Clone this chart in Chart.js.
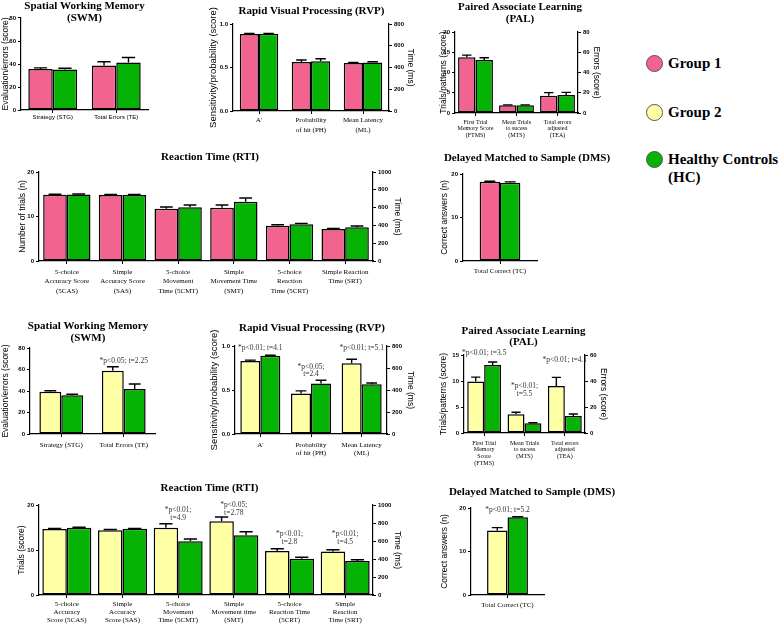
<!DOCTYPE html>
<html><head><meta charset="utf-8">
<script src="https://cdn.jsdelivr.net/npm/chart.js@4.4.0/dist/chart.umd.min.js"></script>
<style>
body{margin:0;background:#fff;width:778px;height:626px;position:relative;overflow:hidden}
canvas{position:absolute}
.leg{position:absolute;left:668px;font:bold 15px 'Liberation Serif',serif;color:#000;line-height:18px;white-space:nowrap}
.dot{position:absolute;width:17px;height:17px;border-radius:50%;border:1px solid #555;box-sizing:border-box}
</style></head><body>
<div class="dot" style="left:646px;top:55px;background:#F2648F"></div><div class="leg" style="top:54px">Group 1</div>
<div class="dot" style="left:646px;top:104px;background:#FFFFA6"></div><div class="leg" style="top:103px">Group 2</div>
<div class="dot" style="left:646px;top:151px;background:#05B305"></div><div class="leg" style="top:150px">Healthy Controls<br>(HC)</div>
<script>
// ---------- data ----------
const groupNames = ['Group 1', 'Group 2', 'Healthy Controls (HC)'];

const swmCatsTop = ['Strategy (STG)', 'Total Errors (TE)'];
const swmCatsBot = ['Strategy (STG)', 'Total Errors (TE)'];
const swmG1 = [35.6, 38.6];   const swmG1Err = [1.0, 3.4];
const swmHC1 = [35.3, 41.3];  const swmHC1Err = [1.0, 4.4];
const swmG2 = [39.3, 58.9];   const swmG2Err = [1.0, 3.7];
const swmHC2 = [36.0, 41.9];  const swmHC2Err = [1.0, 4.6];
const swmNotes = [null, ['*p<0.05; t=2.25']];

const rvpCats = ["A'", ['Probability', 'of hit (PH)'], ['Mean Latency', '(ML)']];
const rvpAxis = ['y', 'y', 'y2'];
const rvpG1 = [0.885, 0.563, 441];  const rvpG1Err = [0.005, 0.023, 6];
const rvpHC1 = [0.887, 0.571, 445]; const rvpHC1Err = [0.005, 0.03, 8];
const rvpG2 = [0.83, 0.46, 643];    const rvpG2Err = [0.01, 0.03, 36];
const rvpHC2 = [0.89, 0.575, 452];  const rvpHC2Err = [0.005, 0.035, 12];
const rvpNotes = [['*p<0.01; t=4.1'], ['*p<0.05;', 't=2.4'], ['*p<0.01; t=5.1']];

const palCatsTop = [['First Trial', 'Memory Score', '(FTMS)'], ['Mean Trials', 'to sucess', '(MTS)'], ['Total errors', 'adjusted', '(TEA)']];
const palCatsBot = [['First Trial', 'Memory', 'Score', '(FTMS)'], ['Mean Trials', 'to sucess', '(MTS)'], ['Total errors', 'adjusted', '(TEA)']];
const palAxis = ['y', 'y', 'y2'];
const palG1 = [13.75, 1.9, 17.1];  const palG1Err = [0.55, 0.1, 3.0];
const palHC1 = [13.1, 1.9, 17.8];  const palHC1Err = [0.55, 0.1, 2.6];
const palG2 = [9.9, 3.6, 36.2];    const palG2Err = [0.85, 0.4, 6.6];
const palHC2 = [13.1, 1.86, 13.1]; const palHC2Err = [0.55, 0.1, 1.5];
const palNotes = [['*p<0.01; t=3.5'], ['*p<0.01;', 't=5.5'], ['*p<0.01; t=4.1']];

const rtiCatsTop = [['5-choice', 'Accuracy Score', '(5CAS)'], ['Simple', 'Accuracy Score', '(SAS)'], ['5-choice', 'Movement', 'Time (5CMT)'], ['Simple', 'Movement Time', '(SMT)'], ['5-choice', 'Reaction', 'Time (5CRT)'], ['Simple Reaction', 'Time (SRT)']];
const rtiCatsBot = [['5-choice', 'Accuracy', 'Score (5CAS)'], ['Simple', 'Accuracy', 'Score (SAS)'], ['5-choice', 'Movement', 'Time (5CMT)'], ['Simple', 'Movement time', '(SMT)'], ['5-choice', 'Reaction Time', '(5CRT)'], ['Simple', 'Reaction', 'Time (SRT)']];
const rtiAxis = ['y', 'y', 'y2', 'y2', 'y2', 'y2'];
const rtiG1 = [14.9, 14.85, 588, 599, 397, 360];   const rtiG1Err = [0.1, 0.1, 19, 30, 11, 5];
const rtiHC1 = [14.95, 14.85, 603, 666, 412, 379]; const rtiHC1Err = [0.1, 0.1, 26, 42, 11, 14];
const rtiG2 = [14.67, 14.4, 748, 819, 489, 482];   const rtiG2Err = [0.12, 0.15, 44, 48, 25, 21];
const rtiHC2 = [14.96, 14.7, 596, 663, 404, 378];  const rtiHC2Err = [0.1, 0.1, 26, 40, 15, 14];
const rtiNotes = [null, null, ['*p<0.01;', 't=4.9'], ['*p<0.05;', 't=2.78'], ['*p<0.01;', 't=2.8'], ['*p<0.01;', 't=4.5']];

const dmsCats = ['Total Correct (TC)'];
const dmsG1 = [18.2];  const dmsG1Err = [0.15];
const dmsHC1 = [18.0]; const dmsHC1Err = [0.2];
const dmsG2 = [14.8];  const dmsG2Err = [0.7];
const dmsHC2 = [17.85]; const dmsHC2Err = [0.15];
const dmsNotes = [['*p<0.01; t=5.2']];

// ---------- styles ----------
const C_G1 = '#F2648F', C_G2 = '#FFFFA6', C_HC = '#05B305';
const SANS = "'Liberation Sans', Arial, sans-serif";
const SERIF = "'Liberation Serif', 'Times New Roman', serif";

const errorBars = {
  id: 'errorBars',
  afterDatasetsDraw(chart) {
    const ctx = chart.ctx;
    chart.data.datasets.forEach((ds, i) => {
      if (!ds.errors) return;
      const meta = chart.getDatasetMeta(i);
      const scale = chart.scales[meta.yAxisID];
      meta.data.forEach((bar, j) => {
        const v = ds.data[j];
        if (v == null || !ds.errors[j]) return;
        const yE = scale.getPixelForValue(v + ds.errors[j]);
        const half = bar.width * 0.27;
        ctx.save();
        ctx.strokeStyle = '#000'; ctx.lineWidth = 1.4;
        ctx.beginPath();
        ctx.moveTo(bar.x, bar.y); ctx.lineTo(bar.x, yE);
        ctx.moveTo(bar.x - half, yE); ctx.lineTo(bar.x + half, yE);
        ctx.stroke();
        ctx.restore();
      });
    });
  }
};

function notesPlugin(notes, lifts, lineGap) {
  return {
    id: 'notes',
    afterDatasetsDraw(chart) {
      if (!notes) return;
      const ctx = chart.ctx, xs = chart.scales.x;
      notes.forEach((lines, idx) => {
        if (!lines) return;
        let top = Infinity;
        chart.data.datasets.forEach((ds, i) => {
          const v = ds.data[idx];
          if (v == null) return;
          const s = chart.scales[chart.getDatasetMeta(i).yAxisID];
          top = Math.min(top, s.getPixelForValue(v + (ds.errors ? ds.errors[idx] || 0 : 0)));
        });
        const x = xs.getPixelForValue(idx);
        ctx.save();
        ctx.font = '7.5px ' + SERIF;
        ctx.fillStyle = '#333';
        ctx.textAlign = 'center';
        ctx.textBaseline = 'middle';
        lines.forEach((ln, k) => ctx.fillText(ln, x, top - lifts[idx] - (lines.length - 1 - k) * lineGap));
        ctx.restore();
      });
    }
  };
}

function yAxis(pos, max, step, title, width, titleSize, fmt) {
  return {
    type: 'linear', position: pos, min: 0, max: max,
    ticks: { stepSize: step, font: { family: SANS, size: 6, weight: 'bold' }, color: '#000', padding: 2,
             callback: fmt || (v => v) },
    grid: { display: true, drawOnChartArea: false, drawTicks: true, tickLength: 3, color: '#000', lineWidth: 1 },
    border: { display: true, color: '#000', width: 1.2 },
    title: { display: !!title, text: title, font: { family: SANS, size: titleSize || 8.5 }, color: '#000', padding: 0 },
    afterFit: s => { s.width = width; }
  };
}

function panel(o) {
  const [l, t, r, b] = o.box;
  const cv = document.createElement('canvas');
  cv.width = r - l; cv.height = b - t;
  cv.style.left = l + 'px'; cv.style.top = t + 'px';
  document.body.appendChild(cv);

  const hasRight = !!o.axisMap;
  const sides = hasRight ? ['y', 'y2'] : ['y'];
  const datasets = [];
  sides.forEach(side => {
    o.series.forEach(s => {
      datasets.push({
        label: s.label,
        data: s.data.map((v, i) => (!hasRight || o.axisMap[i] === side) ? v : null),
        errors: s.err,
        yAxisID: side,
        backgroundColor: s.color, borderColor: '#000', borderWidth: 1.5, borderSkipped: false,
        barPercentage: 1, categoryPercentage: o.catPct, skipNull: true
      });
    });
  });

  const scales = {
    x: {
      type: 'category', offset: true,
      ticks: { font: { family: o.xFamily || SERIF, size: o.xSize || 7, lineHeight: o.xLH || 1.2 }, color: '#000',
               padding: o.xPad, autoSkip: false, maxRotation: 0, minRotation: 0 },
      grid: { display: true, offset: false, drawOnChartArea: false, drawTicks: true, tickLength: 3, color: '#000' },
      border: { display: true, color: '#000', width: 1.2 },
      afterFit: s => { s.height = o.xh; }
    },
    y: yAxis('left', o.yMax, o.yStep, o.yTitle, o.lw, o.yTitleSize, o.yFmt)
  };
  if (hasRight) {
    scales.y2 = yAxis('right', o.y2Max, o.y2Step, o.y2Title, o.rw, 8.5);
  } else {
    scales.sp = { type: 'linear', position: 'right', display: true,
      ticks: { display: false }, grid: { display: false }, border: { display: false },
      afterFit: s => { s.width = o.rw; } };
  }

  new Chart(cv, {
    type: 'bar',
    data: { labels: o.cats, datasets },
    options: {
      responsive: false, animation: false, devicePixelRatio: 1,
      layout: { padding: 0 },
      scales,
      plugins: {
        legend: { display: false },
        tooltip: { enabled: false },
        title: { display: true, text: o.title, color: '#000',
                 font: { family: SERIF, size: 11, weight: 'bold', lineHeight: o.tLH || 1.15 },
                 padding: { top: o.pt, bottom: o.pb } }
      }
    },
    plugins: [errorBars, notesPlugin(o.notes, o.lifts || [], o.noteGap || 8)]
  });
}

const sTop = (g, ge, h, he) => [
  { label: groupNames[0], data: g, err: ge, color: C_G1 },
  { label: groupNames[2], data: h, err: he, color: C_HC }
];
const sBot = (g, ge, h, he) => [
  { label: groupNames[1], data: g, err: ge, color: C_G2 },
  { label: groupNames[2], data: h, err: he, color: C_HC }
];

// ---- Group 1 vs HC ----
panel({ box: [1, 0, 168, 124], lw: 20, rw: 20, title: ['Spatial Working Memory', '(SWM)'], tLH: 1.15, pt: -0.6, pb: -6.7,
  cats: swmCatsTop, series: sTop(swmG1, swmG1Err, swmHC1, swmHC1Err), yMax: 80, yStep: 20,
  yTitle: 'Evaluation/errors (score)', xh: 14, xFamily: SANS, xSize: 6, xPad: 1, catPct: 0.77 });

panel({ box: [208, 0, 415, 136], lw: 25, rw: 26, title: 'Rapid Visual Processing (RVP)', pt: 4.7, pb: 6.65,
  cats: rvpCats, axisMap: rvpAxis, series: sTop(rvpG1, rvpG1Err, rvpHC1, rvpHC1Err),
  yMax: 1, yStep: 0.5, yFmt: v => v.toFixed(1), y2Max: 800, y2Step: 200,
  yTitle: 'Sensitivity/probability (score)', yTitleSize: 9.5, y2Title: 'Time (ms)', xh: 25, xLH: 1.43, xPad: 1, catPct: 0.74 });

panel({ box: [439, 0, 601, 141], lw: 16, rw: 23, title: ['Paired Associate Learning', '(PAL)'], tLH: 1.064, pt: 1.45, pb: 7.15,
  cats: palCatsTop, axisMap: palAxis, series: sTop(palG1, palG1Err, palHC1, palHC1Err),
  yMax: 20, yStep: 5, y2Max: 80, y2Step: 20, yTitle: 'Trials/patterns (score)', y2Title: 'Errors (score)',
  xh: 28, xSize: 6, xLH: 1.08, xPad: 3, catPct: 0.85 });

panel({ box: [18, 145, 402, 297], lw: 21, rw: 29, title: 'Reaction Time (RTI)', pt: 6, pb: 8.35,
  cats: rtiCatsTop, axisMap: rtiAxis, series: sTop(rtiG1, rtiG1Err, rtiHC1, rtiHC1Err),
  yMax: 20, yStep: 10, y2Max: 1000, y2Step: 200, yTitle: 'Number of trials (n)', y2Title: 'Time (ms)',
  xh: 36, xLH: 1.36, xPad: 3, catPct: 0.85 });

panel({ box: [440, 145, 614, 280], lw: 23, rw: 77, title: 'Delayed Matched to Sample (DMS)', pt: 7, pb: 9.35,
  cats: dmsCats, series: sTop(dmsG1, dmsG1Err, dmsHC1, dmsHC1Err), yMax: 20, yStep: 10,
  yTitle: 'Correct answers (n)', xh: 19, xPad: 2.5, catPct: 0.55 });

// ---- Group 2 vs HC ----
panel({ box: [1, 316, 175, 452], lw: 29, rw: 20, title: ['Spatial Working Memory', '(SWM)'], tLH: 1.12, pt: 3.85, pb: 3.55,
  cats: swmCatsBot, series: sBot(swmG2, swmG2Err, swmHC2, swmHC2Err), yMax: 80, yStep: 20,
  yTitle: 'Evaluation/errors (score)', xh: 18, xPad: 3.5, catPct: 0.7, notes: swmNotes, lifts: [0, 6] });

panel({ box: [209, 316, 415, 462], lw: 26, rw: 28, title: 'Rapid Visual Processing (RVP)', pt: 5.7, pb: 11.65,
  cats: rvpCats, axisMap: rvpAxis, series: sBot(rvpG2, rvpG2Err, rvpHC2, rvpHC2Err),
  yMax: 1, yStep: 0.5, yFmt: v => v.toFixed(1), y2Max: 800, y2Step: 200,
  yTitle: 'Sensitivity/probability (score)', yTitleSize: 9.5, y2Title: 'Time (ms)', xh: 28, xLH: 1.2, xPad: 3.5,
  catPct: 0.79, notes: rvpNotes, lifts: [7, 6, 11], noteGap: 7 });

panel({ box: [439, 318, 608, 472], lw: 25, rw: 23, title: ['Paired Associate Learning', '(PAL)'], tLH: 1.03, pt: 7.35, pb: 7.05,
  cats: palCatsBot, axisMap: palAxis, series: sBot(palG2, palG2Err, palHC2, palHC2Err),
  yMax: 15, yStep: 5, y2Max: 60, y2Step: 20, yTitle: 'Trials/patterns (score)', y2Title: 'Errors (score)',
  xh: 39, xSize: 6, xLH: 1.1, xPad: 4, catPct: 0.84, notes: palNotes, lifts: [9, 18, 17] });

panel({ box: [17, 475, 402, 626], lw: 22, rw: 29, title: 'Reaction Time (RTI)', pt: 6.7, pb: 10.65,
  cats: rtiCatsBot, axisMap: rtiAxis, series: sBot(rtiG2, rtiG2Err, rtiHC2, rtiHC2Err),
  yMax: 20, yStep: 10, y2Max: 1000, y2Step: 200, yTitle: 'Trials (score)', y2Title: 'Time (ms)',
  xh: 31, xLH: 1.2, xPad: 1.5, catPct: 0.88, notes: rtiNotes, lifts: [0, 0, 6, 4, 7, 8] });

panel({ box: [440, 478, 624, 615], lw: 31, rw: 80, title: 'Delayed Matched to Sample (DMS)', pt: 7.7, pb: 9.65,
  cats: dmsCats, series: sBot(dmsG2, dmsG2Err, dmsHC2, dmsHC2Err), yMax: 20, yStep: 10,
  yTitle: 'Correct answers (n)', xh: 20, xPad: 2.5, catPct: 0.56, notes: dmsNotes, lifts: [6.5] });
</script>
</body></html>
